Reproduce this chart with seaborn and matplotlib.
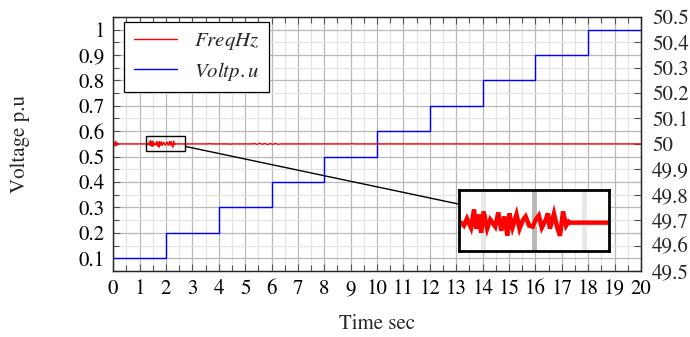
import numpy as np
import pandas as pd
import matplotlib
matplotlib.use("Agg")
import matplotlib.pyplot as plt
from matplotlib.patches import Rectangle, ConnectionPatch
from matplotlib.lines import Line2D
from matplotlib.ticker import MultipleLocator, FixedLocator
import seaborn as sns

# Voltage reference steps (p.u) vs time (s)
volt_time = [0, 2, 4, 6, 8, 10, 12, 14, 16, 18, 20]
volt_pu = [0.1, 0.2, 0.3, 0.4, 0.5, 0.6, 0.7, 0.8, 0.9, 1.0, 1.0]

# Frequency deviation from 50 Hz (mHz)
freq_time = [0.0, 0.04, 0.07, 0.10, 0.13, 0.17, 0.22,
             1.26, 1.28, 1.31, 1.34, 1.38, 1.41, 1.43, 1.46, 1.48, 1.505, 1.54,
             1.57, 1.62, 1.65, 1.68, 1.71, 1.74, 1.76, 1.79, 1.83, 1.86, 1.89,
             1.92, 1.955, 1.99, 2.02, 2.05, 2.08, 2.12, 2.14, 2.16, 2.20, 2.23,
             2.26, 2.29, 2.32, 2.345, 2.36, 2.5, 2.74,
             3.6, 3.65, 3.7, 4.4, 4.45, 4.5,
             5.3, 5.35, 5.45, 5.55, 5.65, 5.75, 5.85, 5.95, 6.05, 6.15, 6.25, 6.35,
             9.0, 9.05, 9.1, 20.0]
freq_dev = [0, 6, -8, 10, -6, 3, 0,
            0, 0, -3, 4, -5, 13, -6, 8, -10, 11, -6,
            3, -4, 10, -8, 6, -13, 9, -5, 8, -6, 2,
            6, -3, -4, 3, 7, -5, 3, 9, -6, 9, -4,
            -13, 11, -3, 1, 0, 0, 0,
            0, 1.5, 0, 0, -1.5, 0,
            0, 2, -2, 2.5, -1.5, 2, -2.5, 1.5, -2, 2, -1.5, 0,
            0, 1.5, 0, 0]

# zoom window (time s, frequency Hz)
zoom_t = (1.26, 2.74)
zoom_f = (49.972, 50.032)

volt_df = pd.DataFrame({"t": volt_time, "v": volt_pu})
freq_df = pd.DataFrame({"t": freq_time, "f": 50 + np.array(freq_dev) / 1000.0})

sns.set_style("ticks")
plt.rcParams["font.family"] = ["STIXGeneral", "DejaVu Serif"]
plt.rcParams["mathtext.fontset"] = "stix"
plt.rcParams["axes.linewidth"] = 0.9

fig = plt.figure(figsize=(6.9, 3.37), dpi=100)
ax1 = fig.add_axes([0.164, 0.196, 0.765, 0.754])
ax2 = ax1.twinx()

# grid on primary axis
ax1.set_xlim(0, 20)
ax1.set_ylim(0.05, 1.05)
ax1.xaxis.set_major_locator(MultipleLocator(1))
ax1.xaxis.set_minor_locator(MultipleLocator(0.5))
ax1.set_yticks([0.1, 0.2, 0.3, 0.4, 0.5, 0.6, 0.7, 0.8, 0.9, 1.0])
ax1.set_yticklabels(["0.1", "0.2", "0.3", "0.4", "0.5", "0.6", "0.7", "0.8", "0.9", "1"])
ax1.yaxis.set_minor_locator(FixedLocator(np.arange(0.05, 1.06, 0.1)))
ax1.grid(which="major", color="#b8b8b8", lw=0.9)
ax1.grid(which="minor", color="#e4e4e4", lw=0.9)
ax1.set_axisbelow(True)
ax1.tick_params(which="both", direction="in", top=True, right=False, colors="black",
                labelsize=15, pad=6)
ax1.tick_params(which="major", length=5, width=0.8, color="#555555")
ax1.tick_params(which="minor", length=4, width=0.8, color="#555555")

sns.lineplot(data=volt_df, x="t", y="v", ax=ax1, color="blue", lw=1.0,
             drawstyle="steps-post", estimator=None, sort=False)
ax1.set_xlabel("Time sec", fontsize=15)
ax1.set_ylabel("Voltage p.u", fontsize=15)
ax1.xaxis.set_label_coords(0.5, -0.17)
ax1.yaxis.set_label_coords(-0.157, 0.5)

sns.lineplot(data=freq_df, x="t", y="f", ax=ax2, color="red", lw=1.0,
             estimator=None, sort=False)
ax2.set_ylim(49.5, 50.5)
ax2.set_yticks(np.round(np.arange(49.5, 50.51, 0.1), 1))
ax2.set_yticklabels(["49.5", "49.6", "49.7", "49.8", "49.9", "50", "50.1",
                     "50.2", "50.3", "50.4", "50.5"])
ax2.set_ylabel("")
ax2.tick_params(axis="y", direction="in", length=5, width=0.8, color="#555555",
                labelsize=15, pad=8)
ax2.set_xlim(0, 20)

# zoom rectangle
ax2.add_patch(Rectangle((zoom_t[0], zoom_f[0]), zoom_t[1] - zoom_t[0],
                        zoom_f[1] - zoom_f[0], fill=False, ec="black", lw=1.0, zorder=5))

# legend
handles = [Line2D([], [], color="red", lw=1.0), Line2D([], [], color="blue", lw=1.0)]
leg = ax2.legend(handles, [r"$Freq Hz$", r"$Volt p.u$"], loc="upper left",
                 bbox_to_anchor=(0.021, 0.98), borderaxespad=0, fontsize=15,
                 handlelength=2.1, frameon=True, fancybox=False, framealpha=1,
                 edgecolor="black", borderpad=0.45, labelspacing=0.35,
                 handletextpad=0.8)
leg.get_frame().set_linewidth(0.9)

# inset
axin = fig.add_axes([0.665, 0.255, 0.217, 0.181])
axin.plot(freq_df["t"], freq_df["f"], color="red", lw=3.2, solid_joinstyle="miter")
axin.set_xlim(*zoom_t)
axin.set_ylim(*zoom_f)
axin.xaxis.set_major_locator(FixedLocator([2.0]))
axin.xaxis.set_minor_locator(FixedLocator([1.5, 2.5]))
axin.yaxis.set_major_locator(FixedLocator([]))
axin.yaxis.set_minor_locator(FixedLocator([50.0]))
axin.grid(which="major", color="#b8b8b8", lw=3.5)
axin.grid(which="minor", color="#e8e8e8", lw=3.5)
axin.set_axisbelow(True)
axin.tick_params(which="both", length=0, labelbottom=False, labelleft=False)
for s in axin.spines.values():
    s.set_linewidth(2.0)
    s.set_color("black")

con = ConnectionPatch(xyA=(zoom_t[1], 49.99), coordsA=ax2.transData,
                      xyB=(0, 0.77), coordsB=axin.transAxes, color="black", lw=1.0)
fig.add_artist(con)

fig.savefig("out.png", dpi=100)
